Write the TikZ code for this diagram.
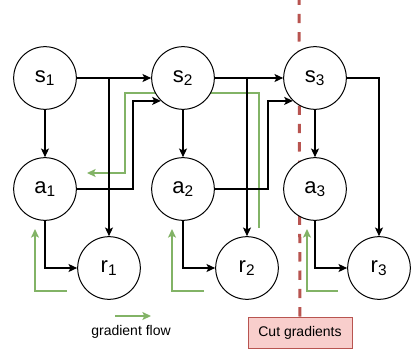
\documentclass[tikz,border=0pt]{standalone}
\usepackage{fontspec}
\setmainfont{Liberation Sans}
\usepackage{xcolor}
\usetikzlibrary{arrows.meta}
\definecolor{flowgreen}{HTML}{82B366}
\definecolor{cutred}{HTML}{B85450}
\definecolor{cutfill}{HTML}{F8CECC}
\pgfdeclarelayer{bg}
\pgfsetlayers{bg,main}

\begin{document}
\begin{tikzpicture}[
    x=0.75pt, y=-0.75pt,
    >={Stealth[length=6.5pt, width=6pt, inset=1.5pt]},
    state/.style={draw, circle, fill=white, line width=0.75pt, minimum size=47pt, inner sep=0pt, font=\fontsize{16.5}{18}\selectfont},
    link/.style={->, line width=1pt},
    flow/.style={->, line width=1pt, draw=flowgreen},
    cutbox/.style={draw=cutred, fill=cutfill, line width=0.75pt, minimum width=78pt, minimum height=23.25pt, font=\fontsize{10.5}{12}\selectfont},
    cutline/.style={draw=cutred, line width=2.25pt, dash pattern=on 7pt off 6.75pt}
]
\useasboundingbox (0,0) rectangle (415,350);

% States, actions, rewards
\node[state] (s1) at (45,78) {s\textsubscript{1}};
\node[state] (s2) at (183,78) {s\textsubscript{2}};
\node[state] (s3) at (315,78) {s\textsubscript{3}};
\node[state] (a1) at (45,189) {a\textsubscript{1}};
\node[state] (a2) at (183,189) {a\textsubscript{2}};
\node[state] (a3) at (315,189) {a\textsubscript{3}};
\node[state] (r1) at (109,268) {r\textsubscript{1}};
\node[state] (r2) at (247,268) {r\textsubscript{2}};
\node[state] (r3) at (379,268) {r\textsubscript{3}};

% Cut marker
\node[cutbox] (cut) at (300,332.5) {Cut gradients};
\coordinate (cuttop) at (299,0);

% Legend
\node[font=\fontsize{10.5}{12}\selectfont] (legend) at (131,332) {gradient flow};
\coordinate (legendstart) at (115,316);

% Connections
\draw[link] (s1) -- (s2);
\draw[link] (s2) -- (s3);
\draw[link] (s1) -- (a1);
\draw[link] (s2) -- (a2);
\draw[link] (s3) -- (a3);
\draw[link] (s1) -| (r1);
\draw[link] (s2) -| (r2);
\draw[link] (s3) -| (r3);
\draw[link] (a1) |- (r1);
\draw[link] (a2) |- (r2);
\draw[link] (a3) |- (r3);
\draw[link] (a1.east) -- ++(56,0) |- (s2.226);
\draw[link] (a2.east) -- ++(53,0) |- (s3.226);

% Gradient flow
\coordinate (flowstart) at (259,228);
\coordinate (flowend) at (87,173);
\coordinate (flowA1) at (67,291);
\coordinate (flowA2) at (204,291);
\coordinate (flowA3) at (338,291);
\draw[flow] (flowA1) -| (35,229);
\draw[flow] (flowA2) -| (172,229);
\draw[flow] (flowA3) -| (307,229);
\draw[flow] (legendstart) -- ++(36,0);

\begin{pgfonlayer}{bg}
\draw[flow] (flowstart) -- ++(0,-135) -| (125,173) -- (flowend);
\draw[cutline] (cut.north) -- (cuttop);
\end{pgfonlayer}

\end{tikzpicture}
\end{document}
